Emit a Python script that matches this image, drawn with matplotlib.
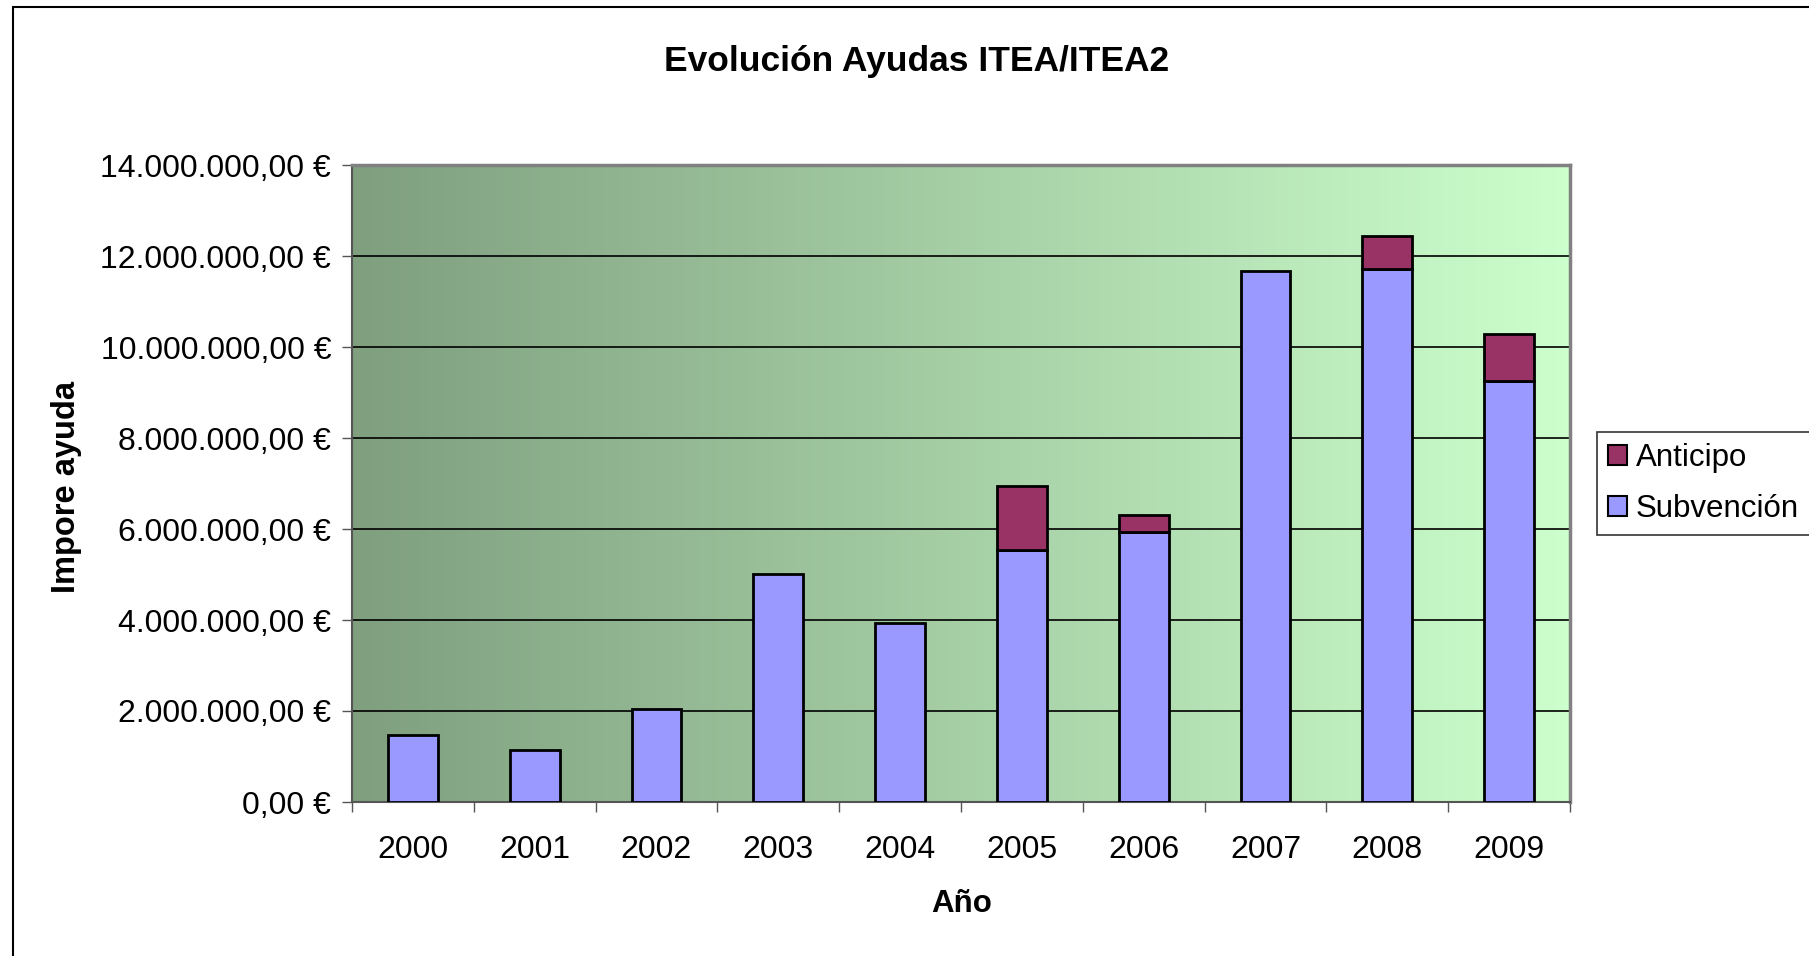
import numpy as np
import matplotlib.pyplot as plt
from matplotlib.colors import LinearSegmentedColormap
from matplotlib.patches import Rectangle
from matplotlib.ticker import FuncFormatter

plt.rcParams["font.family"] = ["Liberation Sans", "DejaVu Sans"]

# Data (euros)
years = ["2000", "2001", "2002", "2003", "2004", "2005", "2006", "2007", "2008", "2009"]
subvencion = [1470000, 1140000, 2050000, 5020000, 3930000, 5540000, 5930000, 11670000, 11720000, 9250000]
anticipo = [0, 0, 0, 0, 0, 1410000, 370000, 0, 710000, 1030000]

fig = plt.figure(figsize=(18.09, 9.56), dpi=100)
ax = fig.add_axes([352 / 1809, 1 - 802 / 956, (1570 - 352) / 1809, (802 - 165) / 956])

# outer chart border
fig.patches.append(Rectangle((12.5 / 1809, -0.1), 1.2, 1 - 6.5 / 956 + 0.1,
                             transform=fig.transFigure, fill=False,
                             edgecolor="black", linewidth=1.5))

x = np.arange(len(years))

# gradient background of plot area
cmap = LinearSegmentedColormap.from_list("bg", ["#7f9f7f", "#ccffcc"])
ax.imshow(np.linspace(0, 1, 256).reshape(1, -1), cmap=cmap, aspect="auto",
          extent=[-0.5, 9.5, 0, 14000000], zorder=0)

bw = 0.41
ax.bar(x, subvencion, width=bw, color="#9999ff", edgecolor="black", linewidth=2,
       label="Subvención", zorder=3)
mask = np.array(anticipo) > 0
ax.bar(x[mask], np.array(anticipo)[mask], width=bw, bottom=np.array(subvencion)[mask],
       color="#993366", edgecolor="black", linewidth=2, label="Anticipo", zorder=3)

ax.set_xlim(-0.5, 9.5)
ax.set_ylim(0, 14000000)
ax.set_yticks(np.arange(0, 14000001, 2000000))
ax.yaxis.set_major_formatter(FuncFormatter(
    lambda v, p: f"{v:,.2f}".replace(",", "X").replace(".", ",").replace("X", ".") + " €"))
ax.yaxis.grid(True, color="black", linewidth=1.2)
ax.set_axisbelow(True)

ax.set_xticks(x)
ax.set_xticklabels(years)
ax.set_xticks(np.arange(-0.5, 10, 1), minor=True)
ax.tick_params(axis="x", which="major", length=0, pad=23.5, labelsize=23)
ax.tick_params(axis="x", which="minor", length=7, width=1, color="#555555", direction="out")
ax.tick_params(axis="y", length=7, width=1, color="#555555", pad=8, labelsize=23)

for s in ["top", "right"]:
    ax.spines[s].set_color("#808080")
    ax.spines[s].set_linewidth(2.5)
for s in ["left", "bottom"]:
    ax.spines[s].set_color("#555555")
    ax.spines[s].set_linewidth(1.5)

fig.text(916.6 / 1809, 1 - 62 / 956, "Evolución Ayudas ITEA/ITEA2", ha="center", va="center",
         fontsize=25.5, fontweight="bold")
fig.text(67 / 1809, 1 - 487 / 956, "Impore ayuda", ha="center", va="center", rotation=90,
         fontsize=23.5, fontweight="bold")
fig.text(962 / 1809, 1 - 904 / 956, "Año", ha="center", va="center",
         fontsize=22.5, fontweight="bold")

h, l = ax.get_legend_handles_labels()
leg = fig.legend(h[::-1], l[::-1], loc="upper left",
                 bbox_to_anchor=(1597 / 1809, 1 - 432 / 956), fontsize=22.5,
                 frameon=True, fancybox=False, borderpad=0.35, labelspacing=0.68,
                 handlelength=0.6, handleheight=0.6, handletextpad=0.3, borderaxespad=0)
leg.get_frame().set_edgecolor("black")
leg.get_frame().set_linewidth(1.2)
for p in leg.get_patches():
    p.set_linewidth(1.5)

fig.savefig("out.png", dpi=100)
